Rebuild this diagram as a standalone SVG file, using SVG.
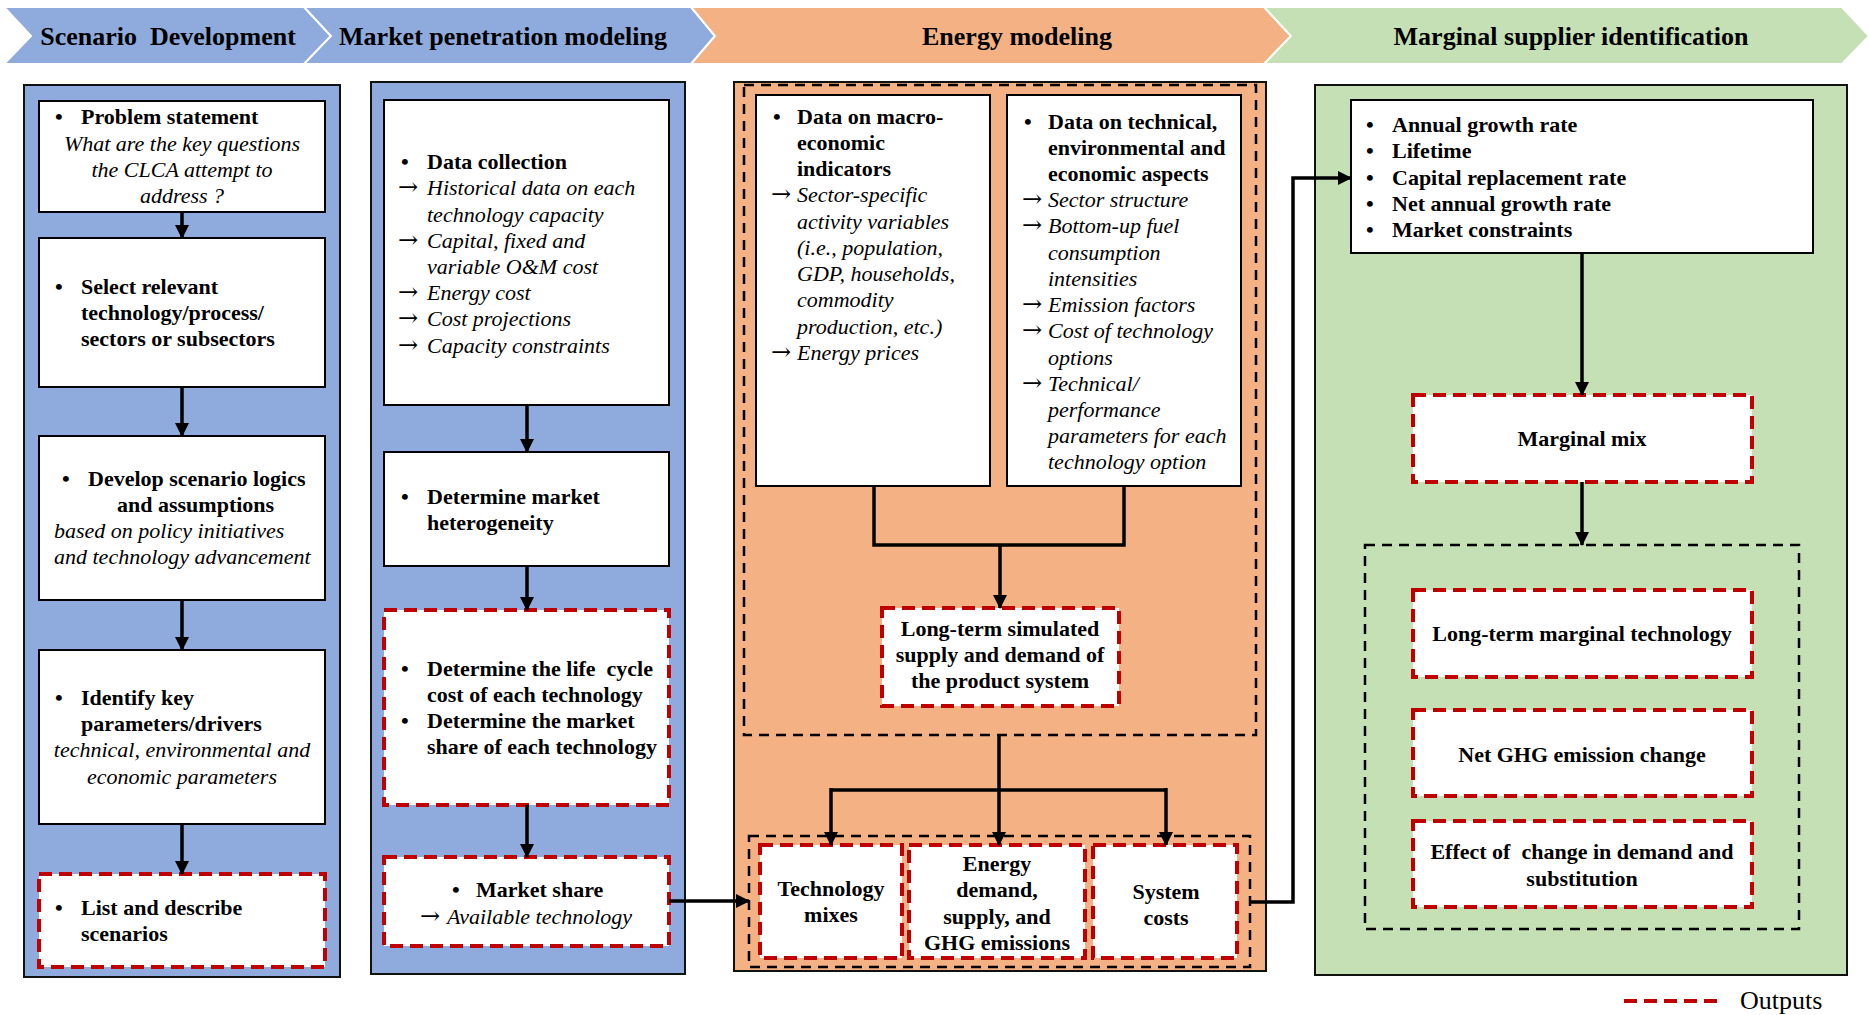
<svg xmlns="http://www.w3.org/2000/svg" width="1869" height="1015" viewBox="0 0 1869 1015">
  <style>
    text { font-family: "Liberation Serif", "Times New Roman", serif; fill: #000; }
    .hd { font-size: 26px; font-weight: bold; text-anchor: middle; }
    .b { font-size: 22px; font-weight: bold; }
    .i { font-size: 22px; font-style: italic; }
    .ar { font-family: "DejaVu Serif", serif; font-size: 24px; }
    .c { text-anchor: middle; }
    .box { fill: #fff; stroke: #000; stroke-width: 2; }
    .out { fill: #fff; stroke: #C00000; stroke-width: 4; stroke-dasharray: 13 7; }
    .grp { fill: none; stroke: #000; stroke-width: 2.5; stroke-dasharray: 10 7; }
    .panel { stroke: #111; stroke-width: 2; }
    .chev { stroke: #fff; stroke-width: 2; }
    .wire { fill: none; stroke: #000; stroke-width: 3.5; }
  </style>
  <defs>
    <marker id="ah" markerUnits="userSpaceOnUse" markerWidth="14" markerHeight="14" refX="13" refY="7" orient="auto">
      <path d="M0,0 L14,7 L0,14 Z" fill="#000"/>
    </marker>
  </defs>

  <rect width="1869" height="1015" fill="#fff"/>

  <!-- Stage headers -->
  <g id="headers">
    <path class="chev" fill="#8FAADC" d="M4,7 L304,7 L331,36 L304,64 L4,64 L31,36 Z"/>
    <path class="chev" fill="#8FAADC" d="M304,7 L691,7 L715,36 L691,64 L304,64 L331,36 Z"/>
    <path class="chev" fill="#F4B183" d="M691,7 L1264,7 L1291,36 L1264,64 L691,64 L715,36 Z"/>
    <path class="chev" fill="#C5E0B4" d="M1264,7 L1842,7 L1869,36 L1842,64 L1264,64 L1291,36 Z"/>
    <text class="hd" x="168" y="45" xml:space="preserve">Scenario  Development</text>
    <text class="hd" x="503" y="45">Market penetration modeling</text>
    <text class="hd" x="1017" y="45">Energy modeling</text>
    <text class="hd" x="1571" y="45">Marginal supplier identification</text>
  </g>

  <!-- Stage panels -->
  <g id="panels">
    <rect class="panel" x="24" y="85" width="316" height="892" fill="#8FAADC"/>
    <rect class="panel" x="371" y="82" width="314" height="892" fill="#8FAADC"/>
    <rect class="panel" x="734" y="82" width="532" height="889" fill="#F4B183"/>
    <rect class="panel" x="1315" y="85" width="532" height="890" fill="#C5E0B4"/>
    <rect class="grp" x="744" y="85" width="512" height="650"/>
    <rect class="grp" x="749" y="836" width="501" height="131" fill="#FBE5D6"/>
    <rect class="grp" x="1365" y="545" width="434" height="384"/>
  </g>

  <!-- Scenario development -->
  <g id="problem-statement">
    <rect class="box" x="39" y="101" width="286" height="111"/>
    <text class="b" x="55" y="124">•</text>
    <text class="b" x="81" y="124">Problem statement</text>
    <text class="i c" x="182" y="151">What are the key questions</text>
    <text class="i c" x="182" y="177">the CLCA attempt to</text>
    <text class="i c" x="182" y="203">address ?</text>
  </g>
  <g id="select-relevant">
    <rect class="box" x="39" y="238" width="286" height="149"/>
    <text class="b" x="55" y="294">•</text>
    <text class="b" x="81" y="294">Select relevant</text>
    <text class="b" x="81" y="320">technology/process/</text>
    <text class="b" x="81" y="346">sectors or subsectors</text>
  </g>
  <g id="scenario-logics">
    <rect class="box" x="39" y="436" width="286" height="164"/>
    <text class="b" x="62" y="486">•</text>
    <text class="b" x="88" y="486">Develop scenario logics</text>
    <text class="b" x="117" y="512">and assumptions</text>
    <text class="i" x="54" y="538">based on policy initiatives</text>
    <text class="i" x="54" y="564">and technology advancement</text>
  </g>
  <g id="key-parameters">
    <rect class="box" x="39" y="650" width="286" height="174"/>
    <text class="b" x="55" y="705">•</text>
    <text class="b" x="81" y="705">Identify key</text>
    <text class="b" x="81" y="731">parameters/drivers</text>
    <text class="i c" x="182" y="757">technical, environmental and</text>
    <text class="i c" x="182" y="784">economic parameters</text>
  </g>
  <g id="scenarios">
    <rect class="out" x="39" y="874" width="286" height="93"/>
    <text class="b" x="55" y="915">•</text>
    <text class="b" x="81" y="915">List and describe</text>
    <text class="b" x="81" y="941">scenarios</text>
  </g>

  <!-- Market penetration modeling -->
  <g id="data-collection">
    <rect class="box" x="384" y="100" width="285" height="305"/>
    <text class="b" x="401" y="169">•</text>
    <text class="b" x="427" y="169">Data collection</text>
    <text class="ar" x="398" y="195">→</text>
    <text class="i" x="427" y="195">Historical data on each</text>
    <text class="i" x="427" y="222">technology capacity</text>
    <text class="ar" x="398" y="248">→</text>
    <text class="i" x="427" y="248">Capital, fixed and</text>
    <text class="i" x="427" y="274">variable O&amp;M cost</text>
    <text class="ar" x="398" y="300">→</text>
    <text class="i" x="427" y="300">Energy cost</text>
    <text class="ar" x="398" y="326">→</text>
    <text class="i" x="427" y="326">Cost projections</text>
    <text class="ar" x="398" y="353">→</text>
    <text class="i" x="427" y="353">Capacity constraints</text>
  </g>
  <g id="market-heterogeneity">
    <rect class="box" x="384" y="452" width="285" height="114"/>
    <text class="b" x="401" y="504">•</text>
    <text class="b" x="427" y="504">Determine market</text>
    <text class="b" x="427" y="530">heterogeneity</text>
  </g>
  <g id="life-cycle-cost">
    <rect class="out" x="384" y="610" width="285" height="195"/>
    <text class="b" x="401" y="676">•</text>
    <text class="b" x="427" y="676" xml:space="preserve">Determine the life  cycle</text>
    <text class="b" x="427" y="702">cost of each technology</text>
    <text class="b" x="401" y="728">•</text>
    <text class="b" x="427" y="728">Determine the market</text>
    <text class="b" x="427" y="754">share of each technology</text>
  </g>
  <g id="market-share">
    <rect class="out" x="384" y="857" width="285" height="89"/>
    <text class="b" x="452" y="897">•</text>
    <text class="b" x="476" y="897">Market share</text>
    <text class="ar" x="420" y="924">→</text>
    <text class="i" x="447" y="924">Available technology</text>
  </g>

  <!-- Energy modeling -->
  <g id="macro-data">
    <rect class="box" x="756" y="95" width="234" height="391"/>
    <text class="b" x="773" y="124">•</text>
    <text class="b" x="797" y="124">Data on macro-</text>
    <text class="b" x="797" y="150">economic</text>
    <text class="b" x="797" y="176">indicators</text>
    <text class="ar" x="771" y="202">→</text>
    <text class="i" x="797" y="202">Sector-specific</text>
    <text class="i" x="797" y="229">activity variables</text>
    <text class="i" x="797" y="255">(i.e., population,</text>
    <text class="i" x="797" y="281">GDP, households,</text>
    <text class="i" x="797" y="307">commodity</text>
    <text class="i" x="797" y="334">production, etc.)</text>
    <text class="ar" x="771" y="360">→</text>
    <text class="i" x="797" y="360">Energy prices</text>
  </g>
  <g id="technical-data">
    <rect class="box" x="1007" y="95" width="234" height="391"/>
    <text class="b" x="1024" y="129">•</text>
    <text class="b" x="1048" y="129">Data on technical,</text>
    <text class="b" x="1048" y="155">environmental and</text>
    <text class="b" x="1048" y="181">economic aspects</text>
    <text class="ar" x="1022" y="207">→</text>
    <text class="i" x="1048" y="207">Sector structure</text>
    <text class="ar" x="1022" y="233">→</text>
    <text class="i" x="1048" y="233">Bottom-up fuel</text>
    <text class="i" x="1048" y="260">consumption</text>
    <text class="i" x="1048" y="286">intensities</text>
    <text class="ar" x="1022" y="312">→</text>
    <text class="i" x="1048" y="312">Emission factors</text>
    <text class="ar" x="1022" y="338">→</text>
    <text class="i" x="1048" y="338">Cost of technology</text>
    <text class="i" x="1048" y="365">options</text>
    <text class="ar" x="1022" y="391">→</text>
    <text class="i" x="1048" y="391">Technical/</text>
    <text class="i" x="1048" y="417">performance</text>
    <text class="i" x="1048" y="443">parameters for each</text>
    <text class="i" x="1048" y="469">technology option</text>
  </g>
  <g id="simulated-supply-demand">
    <rect class="out" x="882" y="608" width="237" height="98"/>
    <text class="b c" x="1000" y="636">Long-term simulated</text>
    <text class="b c" x="1000" y="662">supply and demand of</text>
    <text class="b c" x="1000" y="688">the product system</text>
  </g>
  <g id="technology-mixes">
    <rect class="out" x="760" y="845" width="142" height="113"/>
    <text class="b c" x="831" y="896">Technology</text>
    <text class="b c" x="831" y="922">mixes</text>
  </g>
  <g id="energy-demand">
    <rect class="out" x="909" y="845" width="176" height="113"/>
    <text class="b c" x="997" y="871">Energy</text>
    <text class="b c" x="997" y="897">demand,</text>
    <text class="b c" x="997" y="924">supply, and</text>
    <text class="b c" x="997" y="950">GHG emissions</text>
  </g>
  <g id="system-costs">
    <rect class="out" x="1093" y="845" width="144" height="113"/>
    <text class="b c" x="1166" y="899">System</text>
    <text class="b c" x="1166" y="925">costs</text>
  </g>

  <!-- Marginal supplier identification -->
  <g id="growth-parameters">
    <rect class="box" x="1351" y="100" width="462" height="153"/>
    <text class="b" x="1366" y="132">•</text>
    <text class="b" x="1392" y="132">Annual growth rate</text>
    <text class="b" x="1366" y="158">•</text>
    <text class="b" x="1392" y="158">Lifetime</text>
    <text class="b" x="1366" y="185">•</text>
    <text class="b" x="1392" y="185">Capital replacement rate</text>
    <text class="b" x="1366" y="211">•</text>
    <text class="b" x="1392" y="211">Net annual growth rate</text>
    <text class="b" x="1366" y="237">•</text>
    <text class="b" x="1392" y="237">Market constraints</text>
  </g>
  <g id="marginal-mix">
    <rect class="out" x="1413" y="395" width="339" height="87"/>
    <text class="b c" x="1582" y="446">Marginal mix</text>
  </g>
  <g id="marginal-technology">
    <rect class="out" x="1413" y="590" width="339" height="87"/>
    <text class="b c" x="1582" y="641">Long-term marginal technology</text>
  </g>
  <g id="ghg-change">
    <rect class="out" x="1413" y="710" width="339" height="86"/>
    <text class="b c" x="1582" y="762">Net GHG emission change</text>
  </g>
  <g id="demand-substitution">
    <rect class="out" x="1413" y="821" width="339" height="86"/>
    <text class="b c" x="1582" y="859" xml:space="preserve">Effect of  change in demand and</text>
    <text class="b c" x="1582" y="886">substitution</text>
  </g>

  <!-- Connectors -->
  <g id="connectors">
    <line class="wire" x1="182" y1="212" x2="182" y2="238" marker-end="url(#ah)"/>
    <line class="wire" x1="182" y1="387" x2="182" y2="436" marker-end="url(#ah)"/>
    <line class="wire" x1="182" y1="600" x2="182" y2="650" marker-end="url(#ah)"/>
    <line class="wire" x1="182" y1="824" x2="182" y2="874" marker-end="url(#ah)"/>

    <line class="wire" x1="527" y1="405" x2="527" y2="452" marker-end="url(#ah)"/>
    <line class="wire" x1="527" y1="566" x2="527" y2="610" marker-end="url(#ah)"/>
    <line class="wire" x1="527" y1="805" x2="527" y2="857" marker-end="url(#ah)"/>
    <line class="wire" x1="669" y1="901" x2="749" y2="901" marker-end="url(#ah)"/>

    <polyline class="wire" points="874,486 874,545 1124,545 1124,486"/>
    <line class="wire" x1="1000" y1="545" x2="1000" y2="608" marker-end="url(#ah)"/>
    <line class="wire" x1="999" y1="735" x2="999" y2="790"/>
    <line class="wire" x1="831" y1="790" x2="1166" y2="790"/>
    <line class="wire" x1="831" y1="788" x2="831" y2="845" marker-end="url(#ah)"/>
    <line class="wire" x1="999" y1="790" x2="999" y2="845" marker-end="url(#ah)"/>
    <line class="wire" x1="1166" y1="788" x2="1166" y2="845" marker-end="url(#ah)"/>

    <polyline class="wire" points="1250,902 1293,902 1293,178 1351,178" marker-end="url(#ah)"/>
    <line class="wire" x1="1582" y1="253" x2="1582" y2="395" marker-end="url(#ah)"/>
    <line class="wire" x1="1582" y1="482" x2="1582" y2="545" marker-end="url(#ah)"/>
  </g>

  <!-- Legend -->
  <g id="legend">
    <line x1="1624" y1="1001" x2="1721" y2="1001" stroke="#C00000" stroke-width="4" stroke-dasharray="13 7"/>
    <text x="1740" y="1009" font-size="26">Outputs</text>
  </g>
</svg>
